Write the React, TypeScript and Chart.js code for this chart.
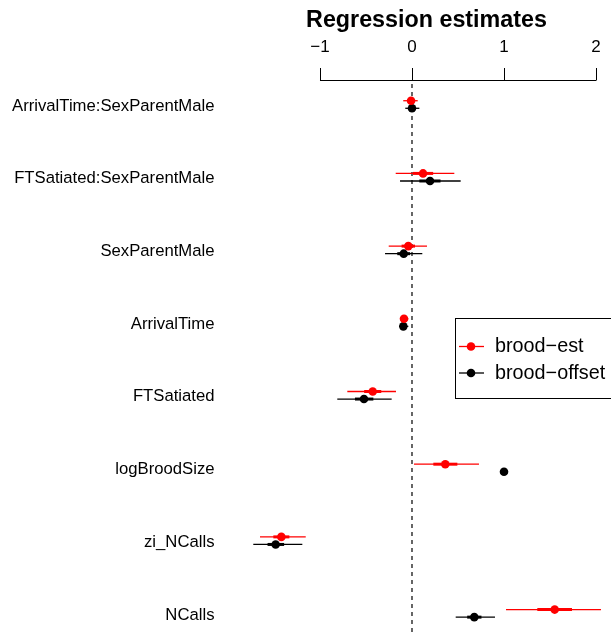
import { useEffect, useRef } from "react";
import { Chart, registerables } from "chart.js";

Chart.register(...registerables);

// Model terms, listed top to bottom
const terms = [
  "ArrivalTime:SexParentMale",
  "FTSatiated:SexParentMale",
  "SexParentMale",
  "ArrivalTime",
  "FTSatiated",
  "logBroodSize",
  "zi_NCalls",
  "NCalls",
];

// brood-est model: estimates with inner (thick) and outer (thin) intervals
const estA = [-0.01, 0.12, -0.04, -0.087, -0.427, 0.362, -1.42, 1.551];
const innerLoA = [-0.038, 0.01, -0.113, -0.103, -0.52, 0.232, -1.507, 1.362];
const innerHiA = [0.018, 0.23, 0.033, -0.071, -0.334, 0.493, -1.333, 1.739];
const outerLoA = [-0.095, -0.177, -0.253, -0.13, -0.703, 0.022, -1.652, 1.022];
const outerHiA = [0.062, 0.46, 0.163, -0.04, -0.174, 0.728, -1.155, 2.054];

// brood-offset model (logBroodSize is a fixed offset, so it has no interval)
const estB = [0.0, 0.196, -0.09, -0.094, -0.522, 1.0, -1.482, 0.677];
const innerLoB = [-0.027, 0.08, -0.16, -0.11, -0.62, null, -1.57, 0.6];
const innerHiB = [0.027, 0.31, -0.02, -0.078, -0.42, null, -1.39, 0.755];
const outerLoB = [-0.073, -0.13, -0.293, -0.14, -0.812, null, -1.725, 0.475];
const outerHiB = [0.08, 0.529, 0.112, -0.04, -0.221, null, -1.192, 0.902];

const xTicks = [-1, 0, 1, 2];
const seriesNames = ["brood\u2212est", "brood\u2212offset"];
const seriesColors = ["#ff0000", "#000000"];
const titleText = "Regression estimates";

const FONT = "'Liberation Sans', Arial, Helvetica, sans-serif";
const ROW_SHIFT = 0.052;

const series = [
  { est: estA, iLo: innerLoA, iHi: innerHiA, oLo: outerLoA, oHi: outerHiA, shift: -ROW_SHIFT },
  { est: estB, iLo: innerLoB, iHi: innerHiB, oLo: outerLoB, oHi: outerHiB, shift: ROW_SHIFT },
];

const fmtTick = (v: number) => (v < 0 ? "\u2212" + Math.abs(v) : String(v));

const coefPlugin = {
  id: "coefDecor",
  beforeDatasetsDraw(chart: any) {
    const { ctx } = chart;
    const xs = chart.scales.x;
    const ys = chart.scales.y;
    ctx.save();

    // dashed reference line at zero
    const x0 = xs.getPixelForValue(0);
    ctx.strokeStyle = "#000";
    ctx.lineWidth = 1.2;
    ctx.setLineDash([4, 4]);
    ctx.beginPath();
    ctx.moveTo(x0, 84);
    ctx.lineTo(x0, chart.height);
    ctx.stroke();
    ctx.setLineDash([]);

    // interval whiskers
    series.forEach((s, si) => {
      ctx.strokeStyle = seriesColors[si];
      s.est.forEach((_, i) => {
        const lo = s.oLo[i];
        const hi = s.oHi[i];
        const y = ys.getPixelForValue(i + 1 + s.shift);
        if (lo != null && hi != null) {
          ctx.lineWidth = 1.3;
          ctx.beginPath();
          ctx.moveTo(xs.getPixelForValue(lo), y);
          ctx.lineTo(xs.getPixelForValue(hi), y);
          ctx.stroke();
        }
        const ilo = s.iLo[i];
        const ihi = s.iHi[i];
        if (ilo != null && ihi != null) {
          ctx.lineWidth = 3;
          ctx.beginPath();
          ctx.moveTo(xs.getPixelForValue(ilo), y);
          ctx.lineTo(xs.getPixelForValue(ihi), y);
          ctx.stroke();
        }
      });
    });
    ctx.restore();
  },
  afterDatasetsDraw(chart: any) {
    const { ctx } = chart;
    const xs = chart.scales.x;
    const ys = chart.scales.y;
    ctx.save();
    ctx.fillStyle = "#000";
    ctx.strokeStyle = "#000";

    // title
    ctx.font = `bold 23.3px ${FONT}`;
    ctx.textAlign = "center";
    ctx.textBaseline = "alphabetic";
    ctx.fillText(titleText, 426.5, 27);

    // top axis
    const axisY = 80.5;
    const xl = xs.getPixelForValue(xTicks[0]);
    const xr = xs.getPixelForValue(xTicks[xTicks.length - 1]);
    ctx.lineWidth = 1;
    ctx.beginPath();
    ctx.moveTo(xl, axisY);
    ctx.lineTo(xr, axisY);
    xTicks.forEach((t) => {
      const px = Math.round(xs.getPixelForValue(t)) + 0.5;
      ctx.moveTo(px, axisY);
      ctx.lineTo(px, 68);
    });
    ctx.stroke();
    ctx.font = `17px ${FONT}`;
    xTicks.forEach((t) => {
      ctx.fillText(fmtTick(t), xs.getPixelForValue(t), 51.5);
    });

    // term labels
    ctx.textAlign = "right";
    ctx.font = `16.7px ${FONT}`;
    terms.forEach((term, i) => {
      ctx.fillText(term, 214.5, ys.getPixelForValue(i + 1) + 6.2);
    });

    // legend
    ctx.lineWidth = 1;
    ctx.strokeRect(455.5, 318.5, 170, 80);
    ctx.font = `19.8px ${FONT}`;
    ctx.textAlign = "left";
    ctx.textBaseline = "middle";
    const rowsY = [346.5, 373];
    seriesNames.forEach((name, si) => {
      const y = rowsY[si];
      ctx.strokeStyle = seriesColors[si];
      ctx.fillStyle = seriesColors[si];
      ctx.lineWidth = 1.3;
      ctx.beginPath();
      ctx.moveTo(459, y);
      ctx.lineTo(484, y);
      ctx.stroke();
      ctx.beginPath();
      ctx.arc(471, y, 4.3, 0, Math.PI * 2);
      ctx.fill();
      ctx.fillStyle = "#000";
      ctx.fillText(name, 495, y + 0.5);
    });
    ctx.restore();
  },
};

export default function App() {
  const canvasRef = useRef<HTMLCanvasElement | null>(null);

  useEffect(() => {
    document.body.style.margin = "0";
    const canvas = canvasRef.current;
    if (!canvas) return;
    const chart = new Chart(canvas, {
      type: "scatter",
      data: {
        datasets: series.map((s, si) => ({
          label: seriesNames[si],
          data: s.est.map((v, i) => ({ x: v, y: i + 1 + s.shift })),
          pointRadius: 4.3,
          pointHoverRadius: 4.3,
          pointBorderWidth: 0,
          pointBackgroundColor: seriesColors[si],
          pointBorderColor: seriesColors[si],
          showLine: false,
          clip: false as any,
        })),
      },
      options: {
        responsive: false,
        animation: false,
        devicePixelRatio: 1,
        events: [],
        layout: { padding: 0, autoPadding: false },
        plugins: {
          legend: { display: false },
          tooltip: { enabled: false },
          title: { display: false },
        },
        scales: {
          x: { type: "linear", min: -4.478, max: 2.163, display: false },
          y: { type: "linear", min: -0.4376, max: 8.284, reverse: true, display: false },
        },
      },
      plugins: [coefPlugin],
    });
    return () => chart.destroy();
  }, []);

  return (
    <div style={{ position: "absolute", left: 0, top: 0, width: 611, height: 634, background: "#fff" }}>
      <canvas ref={canvasRef} width={611} height={634} />
    </div>
  );
}
